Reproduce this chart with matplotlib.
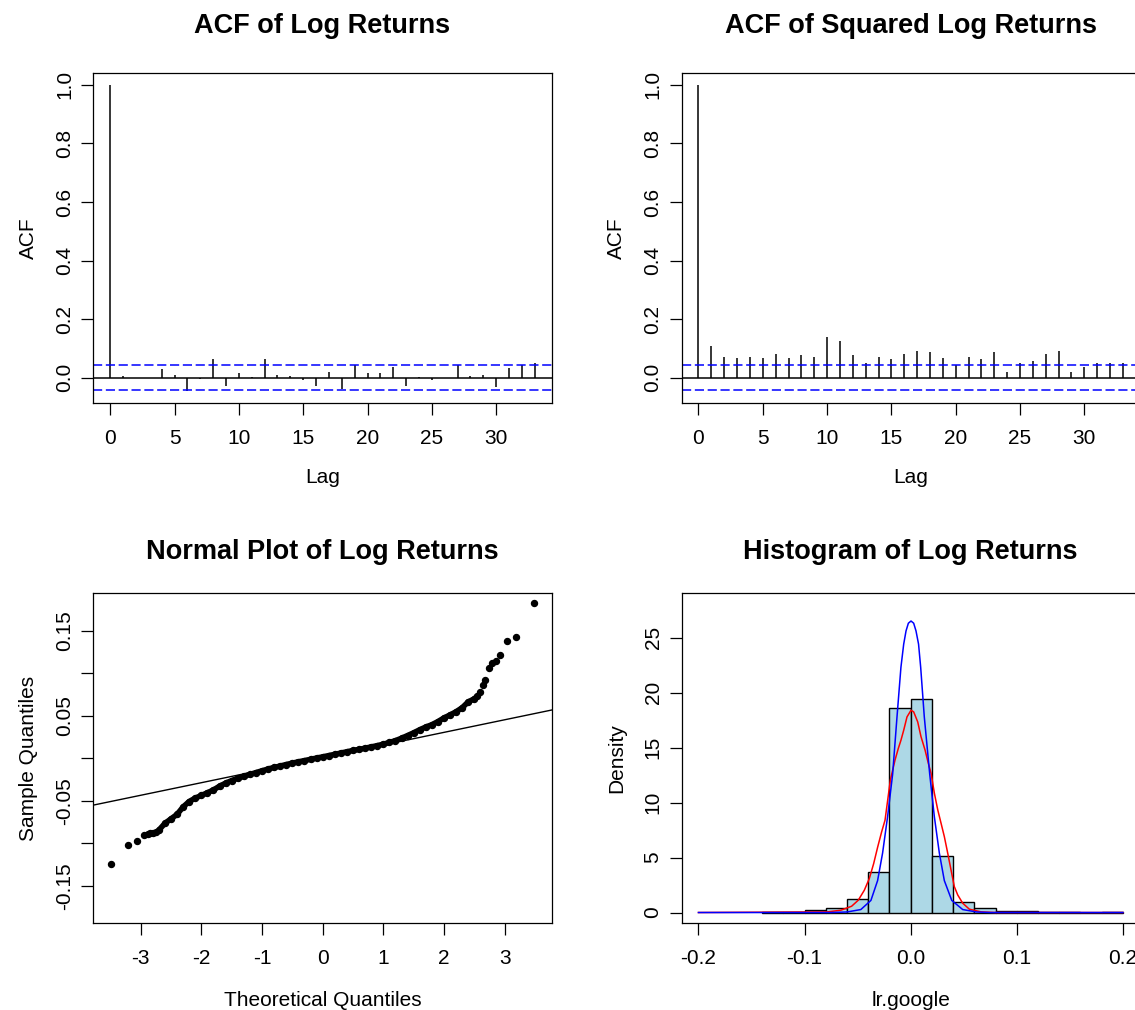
import matplotlib
matplotlib.use("Agg")
import matplotlib.pyplot as plt

plt.rcParams['font.family'] = ['Liberation Sans', 'DejaVu Sans']

# ---- data ----
lags = list(range(34))
acf_lr = [1.0, 0.006, -0.002, -0.002, 0.031, 0.009, -0.046, -0.003, 0.064, -0.027,
          0.015, 0.003, 0.064, 0.010, 0.005, -0.009, -0.027, 0.019, -0.040, 0.045,
          0.015, 0.015, 0.037, -0.027, 0.002, -0.008, -0.002, 0.045, 0.006, 0.010,
          -0.033, 0.033, 0.045, 0.050]
acf_sq = [1.0, 0.109, 0.072, 0.069, 0.072, 0.069, 0.082, 0.069, 0.077, 0.072,
          0.140, 0.127, 0.077, 0.050, 0.072, 0.064, 0.082, 0.090, 0.087, 0.069,
          0.044, 0.072, 0.064, 0.087, 0.019, 0.050, 0.056, 0.082, 0.090, 0.019,
          0.037, 0.050, 0.050, 0.050]
conf_bound = 0.0435

# normal QQ plot: dense band + separate tail points
band_theo = [-2.70, -2.60, -2.50, -2.40, -2.30, -2.20, -2.10, -2.00, -1.90, -1.80,
             -1.70, -1.60, -1.50, -1.40, -1.30, -1.20, -1.10, -1.00, -0.90, -0.80,
             -0.70, -0.60, -0.50, -0.40, -0.30, -0.20, -0.10, 0.00, 0.10, 0.20,
             0.30, 0.40, 0.50, 0.60, 0.70, 0.80, 0.90, 1.00, 1.10, 1.20,
             1.30, 1.40, 1.50, 1.60, 1.70, 1.80, 1.90, 2.00, 2.10, 2.20,
             2.30, 2.40, 2.50, 2.55]
band_sample = [-0.0845, -0.0765, -0.0712, -0.0660, -0.0572, -0.0508, -0.0468, -0.0437, -0.0405, -0.0372,
               -0.0328, -0.0292, -0.0262, -0.0235, -0.0212, -0.0190, -0.0168, -0.0147, -0.0126, -0.0107,
               -0.0091, -0.0073, -0.0057, -0.0041, -0.0027, -0.0012, 0.0003, 0.0017, 0.0032, 0.0047,
               0.0062, 0.0077, 0.0092, 0.0105, 0.0119, 0.0134, 0.0149, 0.0166, 0.0186, 0.0208,
               0.0236, 0.0268, 0.0300, 0.0336, 0.0368, 0.0395, 0.0432, 0.0475, 0.0510, 0.0548,
               0.0595, 0.0664, 0.0700, 0.0730]
tail_theo = [-3.495, -3.203, -3.055, -2.945, -2.88, -2.846, -2.79, -2.75,
             2.60, 2.646, 2.68, 2.74, 2.79, 2.85, 2.93, 3.04, 3.19, 3.486]
tail_sample = [-0.1239, -0.1024, -0.0969, -0.0902, -0.0885, -0.0882, -0.0875, -0.0866,
               0.0775, 0.0863, 0.0922, 0.1059, 0.1125, 0.1145, 0.1216, 0.1384, 0.1424, 0.1824]
qq_intercept = 0.0009
qq_slope = 0.0148

# histogram of log returns
hist_edges = [-0.14, -0.12, -0.10, -0.08, -0.06, -0.04, -0.02, 0.00, 0.02,
              0.04, 0.06, 0.08, 0.10, 0.12, 0.14, 0.16, 0.18, 0.20]
hist_density = [0.025, 0.025, 0.25, 0.42, 1.2, 3.7, 18.6, 19.4, 5.15,
                1.0, 0.42, 0.15, 0.1, 0.05, 0.025, 0.0, 0.025]

# kernel density (red) and normal density (blue)
red_x = [-0.200, -0.0783, -0.0658, -0.0557, -0.0494, -0.0437, -0.0390, -0.0349, -0.0311, -0.0274,
         -0.0242, -0.0217, -0.0192, -0.0170, -0.0148, -0.0117, -0.0092, -0.0066, -0.0035, 0.0003,
         0.0028, 0.0066, 0.0097, 0.0135, 0.0166, 0.0192, 0.0223, 0.0255, 0.0286, 0.0317,
         0.0349, 0.0380, 0.0411, 0.0443, 0.0490, 0.0553, 0.0663, 0.080, 0.200]
red_y = [0, 0.06, 0.21, 0.57, 1.12, 2.03, 3.09, 4.45, 5.96, 7.33,
         8.39, 10.21, 12.03, 12.94, 13.85, 14.91, 15.66, 16.57, 17.78, 18.39,
         18.24, 17.33, 15.99, 14.78, 13.57, 12.66, 10.85, 9.33, 8.12, 6.9,
         5.39, 3.87, 2.36, 1.60, 0.85, 0.30, 0.06, 0, 0]
blue_x = [-0.200, -0.075, -0.060, -0.047, -0.0375, -0.0312, -0.0265, -0.0218, -0.0170, -0.0129,
          -0.0092, -0.0066, -0.0044, -0.0022, 0.0003, 0.0028, 0.0050, 0.0074, 0.0094, 0.0128,
          0.0179, 0.0223, 0.0270, 0.0317, 0.0387, 0.0490, 0.062, 0.075, 0.200]
blue_y = [0, 0, 0.05, 0.27, 1.1, 2.9, 5.4, 8.7, 12.6, 17.8,
          22.3, 24.4, 25.6, 26.3, 26.5, 26.3, 25.6, 24.4, 22.3, 17.8,
          12.6, 8.7, 5.4, 2.9, 1.1, 0.27, 0.05, 0, 0]

# ---- layout (pixels) ----
W, H = 1135, 1010
BOX_W, BOX_H = 458.4, 330.0
LEFT_X, RIGHT_X = 93.3, 681.5
TOP_Y, BOT_Y = 72.7, 593.3
FS = 15
TITLE_FS = 19.5

fig = plt.figure(figsize=(W / 100, H / 100), dpi=100)


def make_axes(x0, y0):
    ax = fig.add_axes([x0 / W, 1 - (y0 + BOX_H) / H, BOX_W / W, BOX_H / H])
    for s in ax.spines.values():
        s.set_color('black')
        s.set_linewidth(0.9)
    ax.tick_params(direction='out', length=8.6, width=0.9, labelsize=FS, colors='black')
    ax.tick_params(axis='x', pad=10)
    ax.tick_params(axis='y', pad=5)
    return ax


def rotate_yticks(ax):
    for lbl in ax.get_yticklabels():
        lbl.set_rotation(90)
        lbl.set_va('center')


def px_text(x, y, s, **kw):
    fig.text(x / W, 1 - y / H, s, ha='center', va='center', **kw)


def acf_panel(x0, y0, values, title):
    ax = make_axes(x0, y0)
    ax.vlines(lags, 0, values, color='black', lw=1.1)
    ax.axhline(0, color='black', lw=1.1)
    for c in (conf_bound, -conf_bound):
        ax.axhline(c, color='blue', lw=1.1, ls=(0, (6, 2.4)))
    ax.set_xlim(-1.32, 34.32)
    ax.set_ylim(-0.0852, 1.0417)
    ax.set_xticks([0, 5, 10, 15, 20, 25, 30])
    ax.set_yticks([0.0, 0.2, 0.4, 0.6, 0.8, 1.0])
    ax.set_yticklabels(['0.0', '0.2', '0.4', '0.6', '0.8', '1.0'])
    rotate_yticks(ax)
    cx = x0 + BOX_W / 2
    px_text(cx, y0 - 47, title, fontsize=TITLE_FS, fontweight='bold')
    px_text(cx, y0 + BOX_H + 75, 'Lag', fontsize=FS)
    px_text(x0 - 65, y0 + BOX_H / 2, 'ACF', fontsize=FS, rotation=90)
    return ax


acf_panel(LEFT_X, TOP_Y, acf_lr, 'ACF of Log Returns')
acf_panel(RIGHT_X, TOP_Y, acf_sq, 'ACF of Squared Log Returns')

# ---- normal QQ plot ----
ax = make_axes(LEFT_X, BOT_Y)
ax.plot(band_theo, band_sample, color='black', lw=4.0, solid_capstyle='round')
ax.plot(band_theo, band_sample, 'o', color='black', ms=4.3)
ax.plot(tail_theo, tail_sample, 'o', color='black', ms=4.3)
ax.axline((0, qq_intercept), slope=qq_slope, color='black', lw=1.0)
ax.set_xlim(-3.78, 3.775)
ax.set_ylim(-0.194, 0.194)
ax.set_xticks([-3, -2, -1, 0, 1, 2, 3])
ax.set_xticklabels(['-3', '-2', '-1', '0', '1', '2', '3'])
ax.set_yticks([-0.15, -0.10, -0.05, 0.0, 0.05, 0.10, 0.15])
ax.set_yticklabels(['-0.15', '', '-0.05', '', '0.05', '', '0.15'])
rotate_yticks(ax)
cx = LEFT_X + BOX_W / 2
px_text(cx, BOT_Y - 41, 'Normal Plot of Log Returns', fontsize=TITLE_FS, fontweight='bold')
px_text(cx, BOT_Y + BOX_H + 77, 'Theoretical Quantiles', fontsize=FS)
px_text(LEFT_X - 65, BOT_Y + BOX_H / 2, 'Sample Quantiles', fontsize=FS, rotation=90)

# ---- histogram ----
ax = make_axes(RIGHT_X, BOT_Y)
ax.bar(hist_edges[:-1], hist_density, width=0.02, align='edge',
       color='#ADD8E6', edgecolor='black', lw=1.0)
ax.plot(red_x, red_y, color='red', lw=1.1)
ax.plot(blue_x, blue_y, color='blue', lw=1.1)
ax.set_xlim(-0.216, 0.216)
ax.set_ylim(-0.98, 29.02)
ax.set_xticks([-0.2, -0.1, 0.0, 0.1, 0.2])
ax.set_xticklabels(['-0.2', '-0.1', '0.0', '0.1', '0.2'])
ax.set_yticks([0, 5, 10, 15, 20, 25])
rotate_yticks(ax)
cx = RIGHT_X + BOX_W / 2
px_text(cx, BOT_Y - 41, 'Histogram of Log Returns', fontsize=TITLE_FS, fontweight='bold')
px_text(cx, BOT_Y + BOX_H + 77, 'lr.google', fontsize=FS)
px_text(RIGHT_X - 65, BOT_Y + BOX_H / 2, 'Density', fontsize=FS, rotation=90)

fig.savefig('out.png', dpi=100, facecolor='white')
